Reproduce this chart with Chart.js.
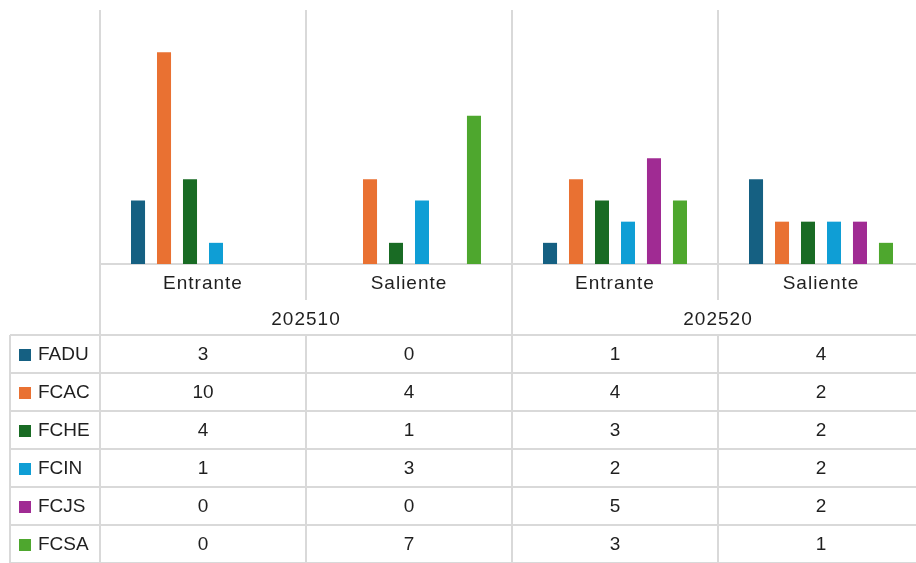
<!DOCTYPE html>
<html>
<head>
<meta charset="utf-8">
<script src="https://cdn.jsdelivr.net/npm/chart.js@4"></script>
<style>
  html, body { margin: 0; padding: 0; background: #fff; overflow: hidden; }
  #wrap { width: 916px; height: 563px; position: relative; overflow: hidden; }
</style>
</head>
<body>
<div id="wrap"><canvas id="c" width="924" height="563"></canvas></div>
<script>
const categories = ["Entrante", "Saliente", "Entrante", "Saliente"];
const periods = ["202510", "202520"];
const seriesNames = ["FADU", "FCAC", "FCHE", "FCIN", "FCJS", "FCSA"];
const FADU = [3, 0, 1, 4];
const FCAC = [10, 4, 4, 2];
const FCHE = [4, 1, 3, 2];
const FCIN = [1, 3, 2, 2];
const FCJS = [0, 0, 5, 2];
const FCSA = [0, 7, 3, 1];
const seriesValues = [FADU, FCAC, FCHE, FCIN, FCJS, FCSA];
const colors = ["#156082", "#E97132", "#196B24", "#0F9ED5", "#A02B93", "#4EA72E"];

const GRID = "#d9d9d9";
const TEXT = "#1f1f1f";
const FONT = "19px 'Liberation Sans', Arial, sans-serif";
const LABEL_FONT = "19px 'Liberation Sans', Arial, sans-serif";

const tablePlugin = {
  id: "tablePlugin",
  beforeDatasetsDraw(chart) {
    const ctx = chart.ctx;
    const area = chart.chartArea;
    const x = chart.scales.x;
    const n = categories.length;
    const w = (x.getPixelForValue(1) - x.getPixelForValue(0));
    const bounds = [];
    for (let i = 0; i <= n; i++) bounds.push(x.getPixelForValue(0) - w / 2 + i * w);
    const rowH = 38;
    const tableTop = 335;
    const tableLeft = 10;
    const H = chart.height;
    ctx.save();
    ctx.strokeStyle = GRID;
    ctx.lineWidth = 2;
    const line = (x1, y1, x2, y2) => { ctx.beginPath(); ctx.moveTo(x1, y1); ctx.lineTo(x2, y2); ctx.stroke(); };
    line(area.left, area.bottom, chart.width, area.bottom);
    for (let i = 0; i < bounds.length; i++) {
      const bx = Math.round(bounds[i]);
      if (bx >= 916) continue;
      const groupEdge = (i % 2 === 0);
      if (groupEdge) {
        line(bx, area.top, bx, H);
      } else {
        line(bx, area.top, bx, 300);
        line(bx, tableTop, bx, H);
      }
    }
    for (let r = 0; r <= seriesNames.length; r++) {
      const y = tableTop + r * rowH;
      line(tableLeft, y, chart.width, y);
    }
    line(tableLeft, tableTop, tableLeft, H);
    ctx.restore();
  },
  afterDraw(chart) {
    const ctx = chart.ctx;
    const x = chart.scales.x;
    const rowH = 38;
    const tableTop = 335;
    ctx.save();
    ctx.fillStyle = TEXT;
    ctx.textBaseline = "middle";
    ctx.textAlign = "center";
    ctx.font = LABEL_FONT;
    ctx.letterSpacing = "1px";
    categories.forEach((c, i) => {
      ctx.fillText(c, x.getPixelForValue(i), 284);
    });
    periods.forEach((p, g) => {
      const cx = (x.getPixelForValue(g * 2) + x.getPixelForValue(g * 2 + 1)) / 2;
      ctx.fillText(p, cx, 320);
    });
    ctx.letterSpacing = "0px";
    ctx.font = FONT;
    seriesNames.forEach((name, r) => {
      const cy = tableTop + r * rowH + rowH / 2 + 1;
      ctx.fillStyle = colors[r];
      ctx.fillRect(19, cy - 6, 12, 12);
      ctx.fillStyle = TEXT;
      ctx.textAlign = "left";
      ctx.fillText(name, 38, cy);
      ctx.textAlign = "center";
      seriesValues[r].forEach((v, i) => {
        ctx.fillText(String(v), x.getPixelForValue(i), cy);
      });
    });
    ctx.restore();
  }
};

new Chart(document.getElementById("c"), {
  type: "bar",
  data: {
    labels: categories,
    datasets: seriesNames.map((name, i) => ({
      label: name,
      data: seriesValues[i],
      backgroundColor: colors[i],
      borderWidth: 0,
      categoryPercentage: 0.757,
      barPercentage: 0.54
    }))
  },
  options: {
    responsive: false,
    animation: false,
    layout: { padding: { left: 100, top: 10, right: 0, bottom: 299 } },
    plugins: { legend: { display: false }, tooltip: { enabled: false } },
    scales: {
      x: { display: false, offset: true },
      y: { display: false, min: 0, max: 12 }
    }
  },
  plugins: [tablePlugin]
});
</script>
</body>
</html>
